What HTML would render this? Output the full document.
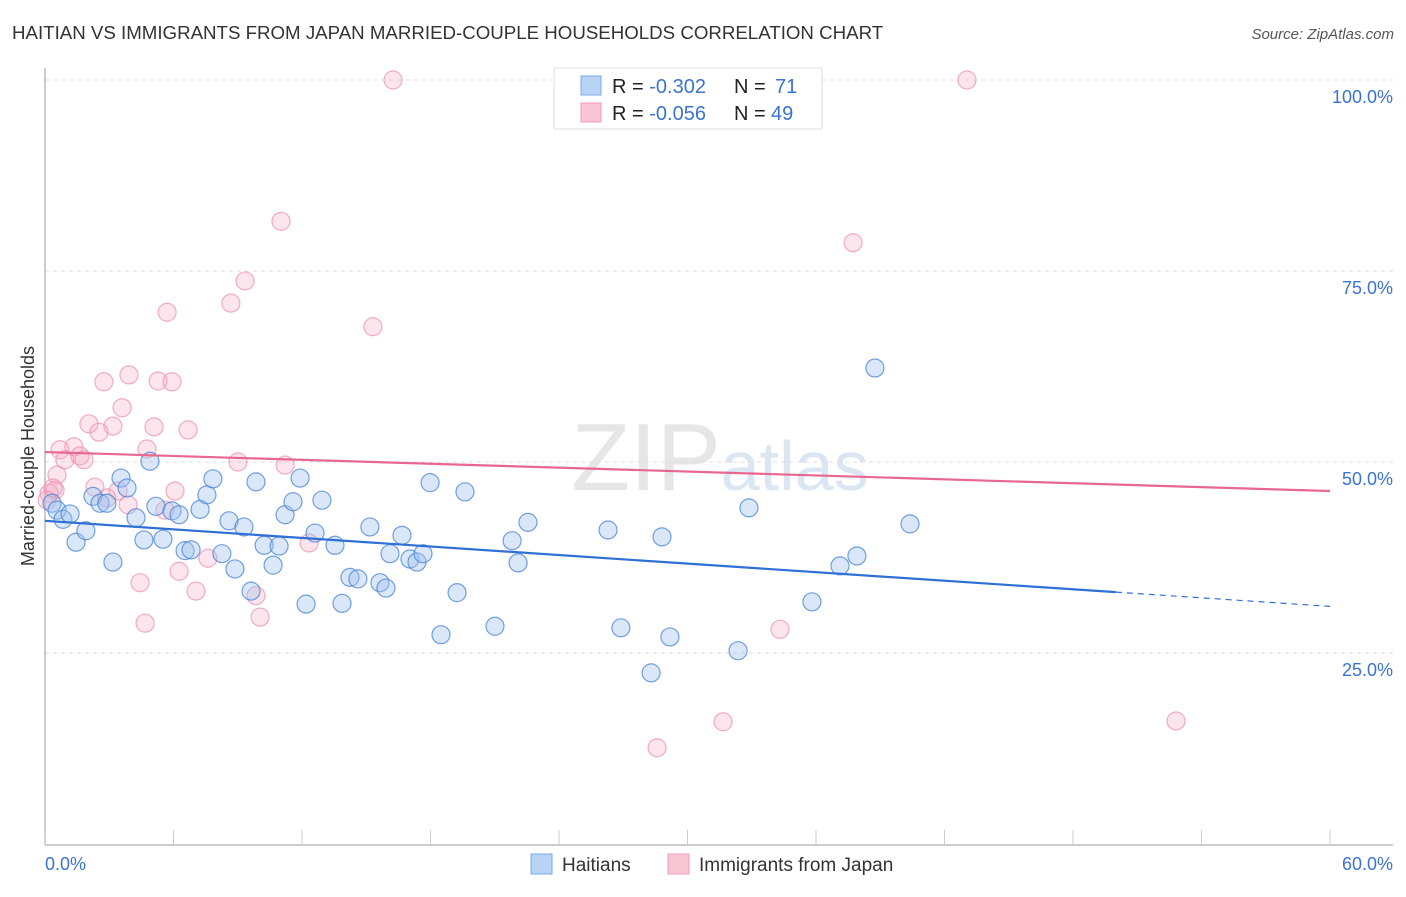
<!DOCTYPE html>
<html><head><meta charset="utf-8"><style>
body{margin:0;background:#fff;font-family:"Liberation Sans",sans-serif;}
svg text{font-family:"Liberation Sans",sans-serif;}
</style></head><body>
<svg id="chart" width="1406" height="892" viewBox="0 0 1406 892">
<text x="12" y="39" font-size="18.7" fill="#333">HAITIAN VS IMMIGRANTS FROM JAPAN MARRIED-COUPLE HOUSEHOLDS CORRELATION CHART</text>
<text x="1394" y="39" font-size="15" fill="#555" text-anchor="end" font-style="italic">Source: ZipAtlas.com</text>
<text x="720" y="490" font-size="96" fill="#e6e6e6" text-anchor="middle" font-family="Liberation Serif">ZIP<tspan fill="#dbe6f3" font-family="Liberation Sans" font-size="70">atlas</tspan></text>
<g id="grid"></g>
<g id="axes"></g>
<g id="marks"></g>
<text transform="translate(34,456) rotate(-90)" font-size="18" fill="#333" text-anchor="middle">Married-couple Households</text>
<g>
<rect x="554" y="68" width="268" height="61" fill="#fff" stroke="#ddd"/>
<rect x="581" y="76" width="20" height="19" fill="#b8d3f5" stroke="#7aa7e4"/>
<rect x="581" y="103" width="20" height="19" fill="#f9c6d6" stroke="#f09ab5"/>
<text x="612" y="93" font-size="20" fill="#222">R = <tspan fill="#3b73d4">-0.302</tspan><tspan x="734">N = </tspan><tspan x="775" fill="#3b73d4">71</tspan></text>
<text x="612" y="120" font-size="20" fill="#222">R = <tspan fill="#3b73d4">-0.056</tspan><tspan x="734">N = </tspan><tspan x="771" fill="#3b73d4">49</tspan></text>
</g>
<g>
<rect x="531" y="854" width="21" height="20" fill="#b8d3f5" stroke="#7aa7e4"/>
<text x="562" y="871" font-size="19" fill="#333">Haitians</text>
<rect x="668" y="854" width="21" height="20" fill="#f9c6d6" stroke="#f09ab5"/>
<text x="699" y="871" font-size="19" fill="#333">Immigrants from Japan</text>
</g>
</svg>
<script>
const xTickLabels=["0.0%","60.0%"];
const yTicks=[25,50,75,100];
const blueX=[0.33,0.56,0.84,1.17,1.45,1.91,2.24,2.57,2.89,3.17,3.55,3.83,4.25,4.62,4.90,5.18,5.51,5.93,6.26,6.54,6.82,7.24,7.56,7.84,8.26,8.59,8.87,9.29,9.62,9.85,10.23,10.65,10.93,11.21,11.58,11.91,12.19,12.61,12.93,13.54,13.87,14.24,14.61,15.17,15.64,15.92,16.11,16.67,17.04,17.37,17.65,17.98,18.49,19.24,19.61,21.01,21.81,22.09,22.55,26.29,26.89,28.30,28.81,29.18,32.36,32.87,35.81,37.12,37.91,38.75,40.39];
const blueY=[44.6,43.7,42.5,43.2,39.5,41.0,45.5,44.6,44.6,36.9,47.9,46.6,42.7,39.8,50.1,44.2,39.9,43.6,43.1,38.4,38.5,43.8,45.7,47.8,38.0,42.3,36.0,41.5,33.1,47.4,39.1,36.5,39.0,43.1,44.8,47.9,31.4,40.7,45.0,39.1,31.5,34.9,34.7,41.5,34.2,33.5,38.0,40.4,37.3,36.9,38.0,47.3,27.4,32.9,46.1,28.5,39.7,36.8,42.1,41.1,28.3,22.4,40.2,27.1,25.3,44.0,31.7,36.4,37.7,62.3,41.9];
const pinkX=[16.25,43.05,11.02,37.73,9.34,8.68,5.70,15.31,3.92,2.75,5.28,5.93,3.60,2.05,5.09,3.17,6.68,2.52,0.70,1.35,4.76,0.93,1.63,1.82,9.01,11.21,0.56,0.47,2.33,6.07,3.41,2.89,3.88,5.60,0.19,6.26,7.61,7.05,4.44,9.85,10.04,12.33,4.67,34.32,31.66,28.58,52.81,0.37,0.1];
const pinkY=[100,100,81.5,78.7,73.7,70.8,69.6,67.7,61.4,60.5,60.6,60.5,57.1,55.0,54.6,54.7,54.2,53.9,51.6,52.0,51.7,50.3,50.8,50.3,50.0,49.6,48.3,46.3,46.7,46.2,46.2,45.3,44.4,43.7,45.9,35.7,37.4,33.1,34.2,32.5,29.7,39.4,28.9,28.1,16.0,12.6,16.1,46.6,45.0];
const blueTrend=[42.3,31.1];
const pinkTrend=[51.3,46.2];
const blueSolidEnd=50;

const NS="http://www.w3.org/2000/svg";
const X0=45,X1=1330,YB=844,YT=80;
const sx=v=>X0+v/60*(X1-X0);
const sy=v=>YB-v/100*(YB-YT);
function mk(tag,attrs,parent){const e=document.createElementNS(NS,tag);for(const k in attrs)e.setAttribute(k,attrs[k]);parent.appendChild(e);return e;}
const grid=document.getElementById('grid'),axes=document.getElementById('axes'),marks=document.getElementById('marks');
yTicks.forEach(t=>{
  const l=mk('line',{x1:X0,x2:1393,y1:sy(t),y2:sy(t),stroke:'#ddd','stroke-dasharray':'4,4'},grid);
  
  
  const tx=mk('text',{x:1393,y:sy(t)+23,'font-size':18,fill:'#3b73d4','text-anchor':'end'},grid);
  tx.textContent=t.toFixed(1)+'%';
  
  
});
const ya=mk('line',{x1:X0,x2:X0,y1:68,y2:845,stroke:'#bbb','stroke-width':1.5},axes);


const xa=mk('line',{x1:X0,x2:1393,y1:845,y2:845,stroke:'#bbb','stroke-width':1.5},axes);


for(let i=0;i<=10;i++){
  const t=mk('line',{x1:sx(i*6),x2:sx(i*6),y1:830,y2:845,stroke:'#ccc'},axes);
  
  
}
[[0,'start',X0],[1,'end',1393]].forEach(([i,a,x])=>{
  const tx=mk('text',{x:x,y:870,'font-size':18,fill:'#3b73d4','text-anchor':a},axes);
  tx.textContent=xTickLabels[i];
  
  
});
function dots(xs,ys,fill,stroke,name){
  xs.forEach((x,i)=>{
    const c=mk('circle',{cx:sx(x),cy:sy(ys[i]),r:9,fill:fill,stroke:stroke,'stroke-width':1.2},marks);
    
    
  });
}
dots(pinkX,pinkY,'rgba(246,170,195,0.3)','rgba(236,140,172,0.7)','japan-point');
dots(blueX,blueY,'rgba(160,196,240,0.4)','rgba(70,130,215,0.75)','haitian-point');
const bv=x=>blueTrend[0]+(blueTrend[1]-blueTrend[0])*x/60;
const b1=mk('line',{x1:sx(0),y1:sy(bv(0)),x2:sx(blueSolidEnd),y2:sy(bv(blueSolidEnd)),stroke:'#2f6fd6','stroke-width':2.2},marks);


const b2=mk('line',{x1:sx(blueSolidEnd),y1:sy(bv(blueSolidEnd)),x2:sx(60),y2:sy(bv(60)),stroke:'#2f6fd6','stroke-width':1.2,'stroke-dasharray':'6,5'},marks);


const p1=mk('line',{x1:sx(0),y1:sy(pinkTrend[0]),x2:sx(60),y2:sy(pinkTrend[1]),stroke:'#e8678f','stroke-width':2.2},marks);


</script>
</body></html>
